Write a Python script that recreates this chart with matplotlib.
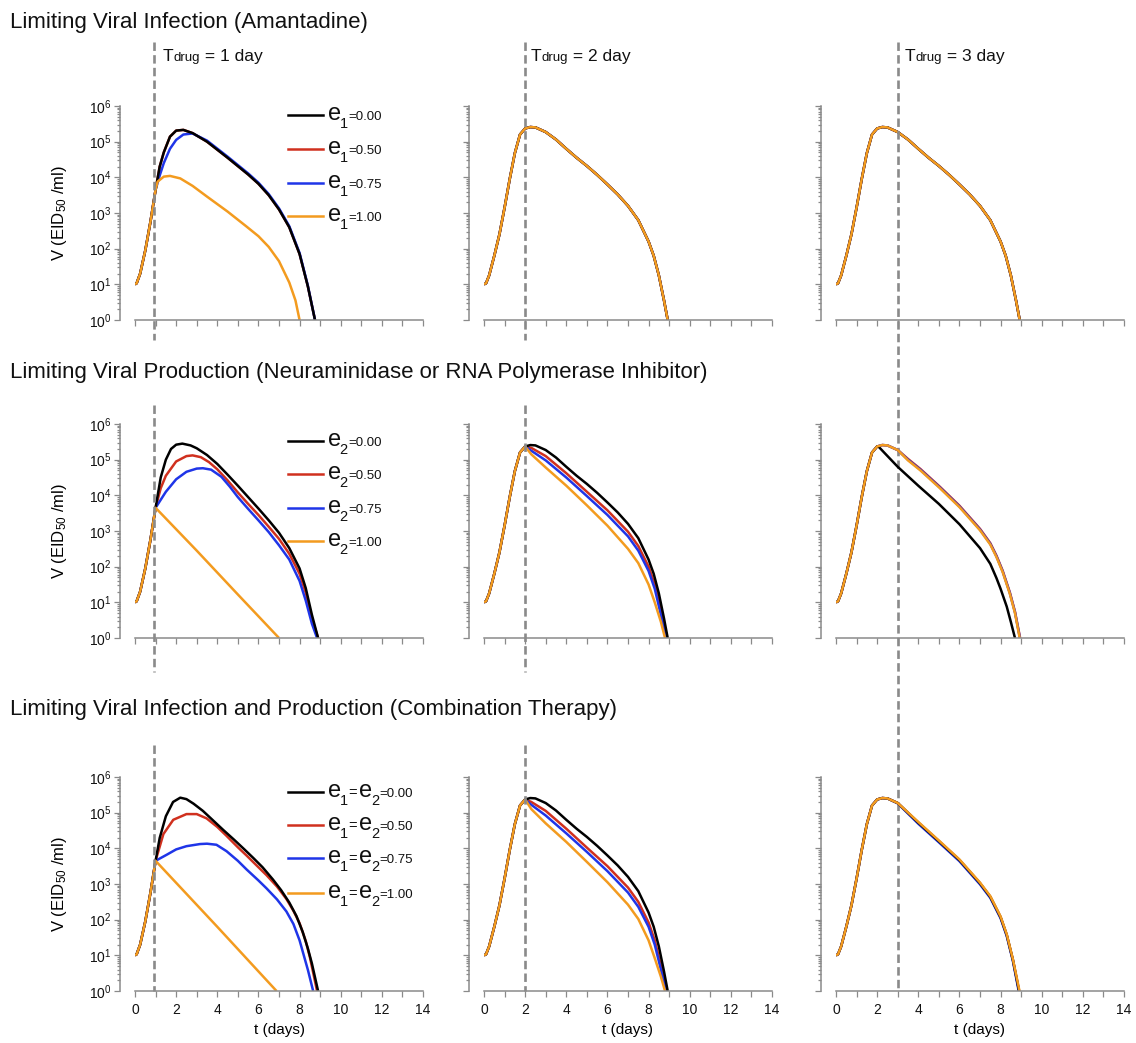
import numpy as np
import matplotlib
matplotlib.use('Agg')
import matplotlib.pyplot as plt
from matplotlib.lines import Line2D
from matplotlib.ticker import LogLocator, NullFormatter

plt.rcParams['font.family'] = ['Liberation Sans', 'DejaVu Sans']
plt.rcParams['mathtext.fontset'] = 'custom'
plt.rcParams['mathtext.rm'] = 'Liberation Sans'
plt.rcParams['mathtext.it'] = 'Liberation Sans:italic'
plt.rcParams['mathtext.default'] = 'regular'

# ---- data (log10 of V) ----
ROW_TITLES = ['Limiting Viral Infection (Amantadine)',
              'Limiting Viral Production (Neuraminidase or RNA Polymerase Inhibitor)',
              'Limiting Viral Infection and Production (Combination Therapy)']
T_DRUG = [0.9, 2, 3]          # dashed marker positions (days)
DRUG_LABELS = ['1', '2', '3']
EFFICACY = ['0.00', '0.50', '0.75', '1.00']

# untreated course (used before the drug starts in columns 2 and 3)
BASE_T = [0.0, 0.1, 0.25, 0.5, 0.75, 1.0, 1.25, 1.5, 1.75, 2.0, 2.25, 2.5, 3.0, 3.5,
          4.0, 4.5, 5.0, 5.5, 6.0, 6.5, 7.0, 7.5, 8.0, 8.25, 8.5, 8.75, 8.93]
BASE_LV = [1.0, 1.03, 1.25, 1.8, 2.4, 3.15, 3.95, 4.68, 5.2, 5.37, 5.41, 5.4, 5.27, 5.06,
           4.8, 4.55, 4.32, 4.07, 3.8, 3.52, 3.2, 2.8, 2.2, 1.8, 1.25, 0.55, 0.0]
# rise before day 1 in the first column
PRE1_T = [0.0, 0.08, 0.25, 0.5, 0.75, 1.0]
PRE1_LV = [1.0, 1.03, 1.3, 1.95, 2.75, 3.65]

# limiting infection, drug at day 1
inf1_t0 = [1.0, 1.2, 1.4, 1.7, 2.0, 2.35, 2.8, 3.5, 4.5, 5.5, 6.0, 6.5, 7.0, 7.5, 8.0, 8.4, 8.75]
inf1_v0 = [3.65, 4.3, 4.7, 5.14, 5.31, 5.33, 5.24, 5.0, 4.55, 4.08, 3.82, 3.5, 3.1, 2.6,
           1.85, 0.95, 0.0]
inf1_v75 = [3.65, 4.05, 4.4, 4.8, 5.05, 5.2, 5.23, 5.03, 4.58, 4.11, 3.85, 3.53, 3.13, 2.63,
            1.88, 0.97, 0.0]
inf1_t100 = [1.0, 1.1, 1.4, 1.7, 2.2, 2.8, 3.5, 4.5, 5.4, 6.0, 6.5, 7.0, 7.5, 7.8, 8.0]
inf1_v100 = [3.65, 3.88, 4.02, 4.04, 3.97, 3.76, 3.46, 3.04, 2.63, 2.35, 2.05, 1.65, 1.05,
             0.55, 0.0]

# limiting production, drug at day 1
prod1_t0 = [1.0, 1.25, 1.5, 1.75, 2.0, 2.3, 2.7, 3.0, 3.5, 4.0, 4.5, 5.0, 5.5, 6.0, 6.5,
            7.0, 7.5, 8.0, 8.3, 8.6, 8.9]
prod1_v0 = [3.65, 4.5, 5.0, 5.3, 5.42, 5.45, 5.4, 5.32, 5.13, 4.88, 4.58, 4.27, 3.95, 3.63,
            3.3, 2.95, 2.52, 1.95, 1.4, 0.65, 0.0]
prod1_t50 = [1.0, 1.25, 1.5, 2.0, 2.5, 2.8, 3.2, 3.6, 4.0, 4.5, 5.0, 5.5, 6.0, 6.5, 7.0,
             7.5, 8.0, 8.3, 8.6, 8.9]
prod1_v50 = [3.65, 4.2, 4.55, 4.95, 5.1, 5.12, 5.07, 4.93, 4.73, 4.42, 4.08, 3.76, 3.45,
             3.12, 2.78, 2.36, 1.8, 1.27, 0.55, 0.0]
prod1_t75 = [1.0, 1.5, 2.0, 2.5, 3.0, 3.3, 3.7, 4.2, 4.6, 5.0, 5.5, 6.0, 6.5, 7.0, 7.5, 8.0,
             8.3, 8.6, 8.85]
prod1_v75 = [3.65, 4.1, 4.45, 4.66, 4.75, 4.76, 4.72, 4.52, 4.25, 3.95, 3.62, 3.3, 2.97,
             2.6, 2.2, 1.6, 1.05, 0.4, 0.0]
prod1_t100 = [1.0, 3.0, 5.0, 7.0]
prod1_v100 = [3.65, 2.45, 1.22, 0.0]

# limiting production, drug at day 2
prod2_t = [2.0, 2.3, 3.0, 4.0, 5.0, 6.0, 7.0, 7.5, 8.0, 8.3, 8.6]
prod2_v50 = [5.37, 5.33, 5.1, 4.62, 4.1, 3.58, 2.98, 2.58, 2.0, 1.5, 0.75]
prod2_v75 = [5.37, 5.25, 4.98, 4.5, 3.98, 3.45, 2.85, 2.45, 1.88, 1.38, 0.65]
prod2_v100 = [5.37, 5.15, 4.78, 4.27, 3.72, 3.15, 2.5, 2.1, 1.5, 1.0, 0.45]
prod2_end = [8.88, 8.85, 8.8]

# limiting production, drug at day 3
prod3_t0 = [2.06, 3.0, 4.0, 5.0, 6.0, 7.0, 7.5, 7.8, 8.0, 8.3, 8.5, 8.7]
prod3_v0 = [5.37, 4.8, 4.27, 3.76, 3.19, 2.52, 2.08, 1.68, 1.38, 0.88, 0.45, 0.0]
prod3_t = [3.0, 3.5, 4.1, 5.05, 6.0, 7.0, 7.5, 7.8, 8.1, 8.45, 8.7]
prod3_v50 = [5.27, 5.02, 4.74, 4.24, 3.71, 3.06, 2.66, 2.31, 1.89, 1.28, 0.74]
prod3_v75 = [5.27, 5.0, 4.72, 4.22, 3.69, 3.04, 2.64, 2.29, 1.87, 1.26, 0.72]
prod3_v100 = [5.27, 4.98, 4.7, 4.2, 3.67, 3.02, 2.62, 2.27, 1.85, 1.24, 0.7]
prod3_end = [8.95, 8.94, 8.93]

# combination, drug at day 1
comb1_t0 = [1.0, 1.2, 1.5, 1.85, 2.2, 2.5, 2.85, 3.3, 3.8, 4.3, 4.8, 5.3, 5.75, 6.2, 6.7,
            7.1, 7.5, 7.85, 8.15, 8.4, 8.6, 8.9]
comb1_v0 = [3.65, 4.29, 4.9, 5.3, 5.42, 5.38, 5.25, 5.05, 4.78, 4.51, 4.25, 3.98, 3.73,
            3.47, 3.13, 2.83, 2.48, 2.1, 1.66, 1.2, 0.77, 0.0]
comb1_t50 = [1.0, 1.38, 1.86, 2.5, 3.0, 3.48, 4.0, 4.45, 5.0, 5.42, 6.0, 6.39, 6.9, 7.36,
             7.7, 8.0, 8.3, 8.5, 8.85]
comb1_v50 = [3.65, 4.4, 4.8, 4.96, 4.96, 4.84, 4.6, 4.35, 4.03, 3.8, 3.47, 3.25, 2.93,
             2.58, 2.25, 1.9, 1.4, 0.95, 0.0]
comb1_t75 = [1.0, 1.54, 2.0, 2.5, 3.16, 3.5, 3.96, 4.45, 5.0, 5.42, 6.0, 6.39, 6.9, 7.36,
             7.7, 8.0, 8.41, 8.66]
comb1_v75 = [3.65, 3.82, 3.97, 4.06, 4.12, 4.13, 4.1, 3.92, 3.65, 3.41, 3.1, 2.88, 2.57,
             2.23, 1.88, 1.42, 0.58, 0.0]
comb1_t100 = [1.0, 4.0, 6.88]
comb1_v100 = [3.65, 1.8, 0.0]

# combination, drug at day 2
comb2_v50 = [5.37, 5.3, 5.05, 4.55, 4.02, 3.5, 2.9, 2.5, 1.92, 1.42, 0.7]
comb2_v75 = [5.37, 5.22, 4.92, 4.42, 3.9, 3.36, 2.76, 2.36, 1.8, 1.3, 0.6]
comb2_v100 = [5.37, 5.1, 4.7, 4.18, 3.62, 3.05, 2.42, 2.02, 1.42, 0.92, 0.4]

# combination, drug at day 3
comb3_t = [3.0, 4.0, 5.0, 6.0, 7.0, 7.5, 8.0, 8.3, 8.6]
comb3_v0 = [5.27, 4.72, 4.2, 3.67, 3.02, 2.64, 2.07, 1.57, 0.87]
comb3_v75 = [5.26, 4.69, 4.17, 3.64, 2.99, 2.61, 2.04, 1.54, 0.84]
comb3_v100 = [5.27, 4.74, 4.22, 3.69, 3.04, 2.66, 2.09, 1.59, 0.89]
comb3_end = [8.9, 8.9, 8.88, 8.92]

# each panel: four curves (e = 0, .5, .75, 1); None means the untreated course
PANELS = [
    [[(inf1_t0, inf1_v0), (inf1_t0, inf1_v0), (inf1_t0, inf1_v75), (inf1_t100, inf1_v100)],
     [None, None, None, None],
     [None, None, None, None]],
    [[(prod1_t0, prod1_v0), (prod1_t50, prod1_v50), (prod1_t75, prod1_v75), (prod1_t100, prod1_v100)],
     [None,
      (prod2_t + [prod2_end[0]], prod2_v50 + [0.0]),
      (prod2_t + [prod2_end[1]], prod2_v75 + [0.0]),
      (prod2_t + [prod2_end[2]], prod2_v100 + [0.0])],
     [(prod3_t0, prod3_v0),
      (prod3_t + [prod3_end[0]], prod3_v50 + [0.0]),
      (prod3_t + [prod3_end[1]], prod3_v75 + [0.0]),
      (prod3_t + [prod3_end[2]], prod3_v100 + [0.0])]],
    [[(comb1_t0, comb1_v0), (comb1_t50, comb1_v50), (comb1_t75, comb1_v75), (comb1_t100, comb1_v100)],
     [None,
      (prod2_t + [prod2_end[0]], comb2_v50 + [0.0]),
      (prod2_t + [prod2_end[1]], comb2_v75 + [0.0]),
      (prod2_t + [prod2_end[2]], comb2_v100 + [0.0])],
     [(comb3_t + [comb3_end[0]], comb3_v0 + [0.0]),
      (comb3_t + [comb3_end[1]], comb3_v0 + [0.0]),
      (comb3_t + [comb3_end[2]], comb3_v75 + [0.0]),
      (comb3_t + [comb3_end[3]], comb3_v100 + [0.0])]],
]

COLORS = ['#000000', '#d0301e', '#1f35e8', '#f39b1f']
DRAW_ORDER = [1, 2, 0, 3]
GREY = '#8a8a8a'

# ---- layout (pixels of the 1136x1043 picture) ----
W, H = 1136, 1043
COL_LEFT = [135, 484, 836]
ROW_TOP = [106, 424, 777]
AX_W, AX_H = 288, 214
TITLE_Y = [28, 378, 715]
LEGEND_Y = [[115, 149, 183, 216], [441, 474, 508, 541], [792, 825, 858, 893]]
# dashed marker extent per row (top px, bottom px)
DASH_SPAN = [(42, 340), (405, 672), (745, 991)]


def join(pre_t, pre_lv, t, lv):
    keep = [i for i, x in enumerate(pre_t) if x < t[0]]
    return ([pre_t[i] for i in keep] + list(t), [pre_lv[i] for i in keep] + list(lv))


fig = plt.figure(figsize=(W / 100, H / 100), dpi=100)


def rich_text(ax, x_px, y_px, pieces):
    y = 1 - y_px / H
    s, size, _, _ = pieces[0]
    prev = fig.text(x_px / W, y, s, fontsize=size, va='baseline', ha='left', color='#111111')
    for s, size, dx, dy in pieces[1:]:
        prev = ax.annotate(s, xy=(1, y), xycoords=(prev, 'figure fraction'),
                           xytext=(dx, dy), textcoords='offset points',
                           fontsize=size, va='baseline', ha='left', color='#111111',
                           annotation_clip=False)


def px_to_axes_y(r, py):
    return (ROW_TOP[r] + AX_H - py) / AX_H


for r in range(3):
    fig.text(10 / W, 1 - TITLE_Y[r] / H, ROW_TITLES[r], fontsize=16, va='baseline',
             ha='left', color='#111111')
    for c in range(3):
        ax = fig.add_axes([COL_LEFT[c] / W, 1 - (ROW_TOP[r] + AX_H) / H, AX_W / W, AX_H / H])
        pre_t, pre_lv = (PRE1_T, PRE1_LV) if c == 0 else (BASE_T, BASE_LV)
        for k in DRAW_ORDER:
            curve = PANELS[r][c][k]
            if curve is None:
                t, lv = BASE_T, BASE_LV
            else:
                t, lv = join(pre_t, pre_lv, curve[0], curve[1])
            ax.plot(t, np.power(10.0, lv), color=COLORS[k], lw=1.8, solid_capstyle='butt',
                    solid_joinstyle='round')

        ax.set_yscale('log')
        ax.set_xlim(0, 14)
        ax.set_ylim(1, 1e6)
        ax.set_xticks(range(0, 15, 2))
        ax.set_xticks(range(0, 15), minor=True)
        ax.yaxis.set_major_locator(LogLocator(base=10, numticks=10))
        ax.yaxis.set_minor_locator(LogLocator(base=10, subs=np.arange(2, 10), numticks=10))
        ax.yaxis.set_minor_formatter(NullFormatter())
        for side in ['top', 'right']:
            ax.spines[side].set_visible(False)
        for side in ['left', 'bottom']:
            ax.spines[side].set_color(GREY)
            ax.spines[side].set_linewidth(1.1)
        ax.spines['left'].set_position(('outward', 10.8))
        ax.tick_params(axis='both', which='both', direction='out', color=GREY, width=0.9,
                       labelsize=10, labelcolor='#111111')
        ax.tick_params(axis='x', which='both', length=4, pad=5)
        ax.tick_params(axis='y', which='major', length=4, pad=2)
        ax.tick_params(axis='y', which='minor', length=2.5)
        ax.patch.set_alpha(0)

        if r < 2:
            ax.tick_params(axis='x', labelbottom=False)
        else:
            ax.set_xlabel('t (days)', fontsize=11, labelpad=4)
        if c > 0:
            ax.tick_params(axis='y', labelleft=False)
        else:
            ax.set_ylabel(r'V (EID$_{50}$ /ml)', fontsize=12)
            ax.yaxis.set_label_coords(-0.23, 0.5)

        # dashed drug-start marker
        top, bottom = DASH_SPAN[r]
        if c == 2:
            if r > 0:
                continue
            bottom = DASH_SPAN[2][1]
        ax.plot([T_DRUG[c], T_DRUG[c]], [px_to_axes_y(r, top), px_to_axes_y(r, bottom)],
                transform=ax.get_xaxis_transform(), clip_on=False, color=GREY,
                lw=1.9, ls=(0, (3.2, 1.6)), zorder=5)

        if r == 0:
            x_lab = {0: 163, 1: 531, 2: 905}[c]
            rich_text(ax, x_lab, 61, [('T', 12.5, 0, 0), ('drug', 9.5, 0, 0),
                                      (' = %s day' % DRUG_LABELS[c], 12.5, 0, 0)])

        if c == 0:
            for k in range(4):
                yk = LEGEND_Y[r][k]
                fig.add_artist(Line2D([288 / W, 323 / W], [1 - yk / H] * 2,
                                      color=COLORS[k], lw=1.8))
                if r == 0:
                    pieces = [('e', 17, 0, 0), ('1', 10.5, -1, -5.8),
                              ('=' + EFFICACY[k], 9.5, 0.5, 0)]
                elif r == 1:
                    pieces = [('e', 17, 0, 0), ('2', 10.5, -1, -5.8),
                              ('=' + EFFICACY[k], 9.5, 0.5, 0)]
                else:
                    pieces = [('e', 17, 0, 0), ('1', 10.5, -1, -5.8), ('=', 10.5, 0.5, 0),
                              ('e', 17, 1.5, 0), ('2', 10.5, -1, -5.8),
                              ('=' + EFFICACY[k], 9.5, 0.5, 0)]
                rich_text(ax, 328, yk + 5, pieces)

fig.savefig('out.png', dpi=100)
